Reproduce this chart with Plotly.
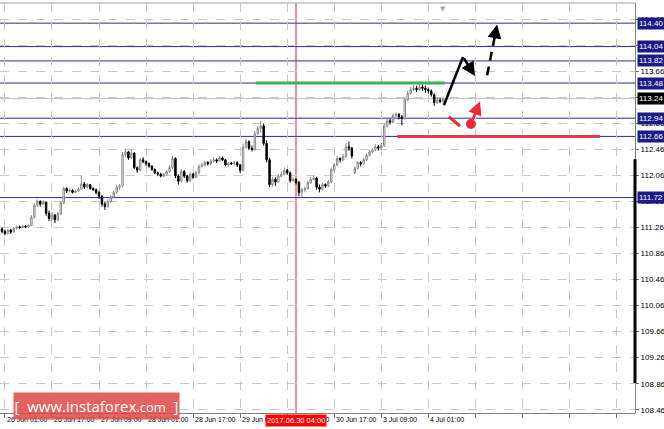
import plotly.graph_objects as go

# ---------------- data (hourly bars, 26 Jun 00:00 -> 4 Jul 06:00, weekend skipped) ----------------
opens = [111.24,111.20,111.17,111.22,111.19,111.25,111.27,111.26,111.28,111.27,
         111.29,111.42,111.60,111.66,111.62,111.65,111.48,111.40,111.45,111.38,
         111.47,111.64,111.86,111.82,111.83,111.80,111.82,111.85,111.93,111.88,
         111.92,111.86,111.84,111.80,111.74,111.62,111.58,111.66,111.73,111.80,
         111.88,111.90,112.38,112.42,112.33,112.40,112.18,112.14,112.30,112.27,
         112.24,112.20,112.15,112.10,112.08,112.05,112.08,112.12,112.18,112.32,
         112.05,111.97,112.12,112.05,111.98,112.08,112.03,112.10,112.20,112.22,
         112.26,112.24,112.28,112.30,112.28,112.33,112.30,112.22,112.25,112.24,
         112.26,112.22,112.14,112.50,112.58,112.48,112.46,112.70,112.78,112.82,
         112.55,112.30,111.92,112.00,111.96,112.05,112.08,112.14,112.10,111.98,
         112.00,111.95,111.80,111.84,111.86,111.95,112.00,112.02,111.88,111.85,
         111.92,111.90,111.96,112.15,112.22,112.32,112.30,112.35,112.50,112.48,
         112.10,112.17,112.26,112.24,112.30,112.37,112.42,112.45,112.50,112.48,
         112.52,112.82,112.90,112.88,112.98,113.00,112.96,112.94,113.22,113.32,
         113.38,113.40,113.38,113.42,113.40,113.38,113.36,113.30,113.18,113.22,
         113.20]
highs = [111.26,111.23,111.24,111.24,111.27,111.29,111.29,111.30,111.30,111.31,
         111.45,111.63,111.69,111.68,111.68,111.66,111.52,111.50,111.47,111.50,
         111.67,111.89,111.88,111.86,111.85,111.84,111.88,112.06,111.96,111.94,
         111.93,111.88,111.86,111.82,111.76,111.66,111.69,111.76,111.83,111.92,
         111.93,112.42,112.47,112.44,112.46,112.42,112.20,112.33,112.34,112.29,
         112.26,112.22,112.17,112.12,112.10,112.10,112.14,112.22,112.36,112.34,
         112.08,112.16,112.14,112.07,112.11,112.10,112.13,112.23,112.25,112.29,
         112.28,112.31,112.34,112.32,112.36,112.35,112.31,112.27,112.27,112.28,
         112.28,112.24,112.55,112.62,112.60,112.52,112.74,112.82,112.90,112.86,
         112.60,112.33,112.04,112.03,112.08,112.12,112.18,112.16,112.12,112.03,
         112.02,111.98,111.87,111.89,111.98,112.04,112.06,112.04,111.92,111.95,
         111.94,111.99,112.18,112.25,112.36,112.34,112.39,112.56,112.58,112.50,
         112.20,112.28,112.28,112.33,112.40,112.45,112.48,112.54,112.53,112.56,
         112.86,112.94,112.93,113.01,113.03,113.02,112.99,113.25,113.36,113.42,
         113.45,113.44,113.48,113.46,113.44,113.41,113.38,113.32,113.26,113.25,
         113.27]
lows = [111.17,111.14,111.15,111.16,111.18,111.23,111.24,111.25,111.25,111.26,
        111.28,111.40,111.57,111.58,111.60,111.44,111.36,111.37,111.33,111.36,
        111.45,111.62,111.79,111.80,111.78,111.79,111.81,111.84,111.85,111.86,
        111.84,111.82,111.77,111.70,111.58,111.53,111.57,111.64,111.71,111.78,
        111.84,111.88,112.34,112.30,112.31,112.16,112.10,112.12,112.25,112.21,
        112.18,112.13,112.08,112.05,112.03,112.03,112.06,112.10,112.16,112.02,
        111.92,111.95,112.02,111.95,111.96,112.01,112.02,112.08,112.18,112.20,
        112.21,112.22,112.26,112.25,112.27,112.28,112.20,112.20,112.22,112.22,
        112.19,112.10,112.12,112.47,112.45,112.43,112.44,112.68,112.72,112.52,
        112.26,111.88,111.89,111.90,111.94,112.03,112.06,112.07,111.95,111.96,
        111.92,111.74,111.73,111.80,111.84,111.93,111.98,111.84,111.80,111.83,
        111.87,111.88,111.94,112.12,112.20,112.26,112.28,112.33,112.44,112.32,
        112.08,112.15,112.20,112.22,112.28,112.35,112.40,112.43,112.44,112.46,
        112.50,112.80,112.84,112.86,112.95,112.92,112.83,112.92,113.20,113.30,
        113.36,113.34,113.36,113.36,113.33,113.32,113.27,113.13,113.16,113.17,
        113.18]
closes = [111.20,111.17,111.22,111.19,111.25,111.27,111.26,111.28,111.27,111.29,
          111.42,111.60,111.66,111.62,111.65,111.48,111.40,111.45,111.38,111.47,
          111.64,111.86,111.82,111.83,111.80,111.82,111.85,111.93,111.88,111.92,
          111.86,111.84,111.80,111.74,111.62,111.58,111.66,111.73,111.80,111.88,
          111.90,112.38,112.42,112.33,112.40,112.18,112.14,112.30,112.27,112.24,
          112.20,112.15,112.10,112.08,112.05,112.08,112.12,112.18,112.32,112.05,
          111.97,112.12,112.05,111.98,112.08,112.03,112.10,112.20,112.22,112.26,
          112.24,112.28,112.30,112.28,112.33,112.30,112.22,112.25,112.24,112.26,
          112.22,112.14,112.50,112.58,112.48,112.46,112.70,112.78,112.82,112.55,
          112.30,111.92,112.00,111.96,112.05,112.08,112.14,112.10,111.98,112.00,
          111.95,111.80,111.84,111.86,111.95,112.00,112.02,111.88,111.85,111.92,
          111.90,111.96,112.15,112.22,112.32,112.30,112.35,112.50,112.48,112.36,
          112.17,112.26,112.24,112.30,112.37,112.42,112.45,112.50,112.48,112.52,
          112.82,112.90,112.88,112.98,113.00,112.96,112.94,113.22,113.32,113.38,
          113.40,113.38,113.42,113.40,113.38,113.36,113.30,113.18,113.22,113.20,
          113.24]
bar_index = list(range(len(closes)))

tick_bars = [1, 17, 33, 49, 65, 81, 97, 113, 129, 145]
tick_labels = ["26 Jun 01:00", "26 Jun 17:00", "27 Jun 09:00", "28 Jun 01:00", "28 Jun 17:00",
               "29 Jun 09:00", "30 Jun 01:00", "30 Jun 17:00", "3 Jul 09:00", "4 Jul 01:00"]
future_grid_bars = [161, 177, 193, 209]
grid_prices = [108.46, 108.86, 109.26, 109.66, 110.06, 110.46, 110.86, 111.26, 111.66,
               112.06, 112.46, 112.86, 113.26, 113.66, 114.06, 114.46]

level_prices = [114.40, 114.04, 113.82, 113.48, 112.94, 112.66, 111.72]
current_price = 113.24
marker_bar = 100
marker_label = "2017.06.30 04:00"

green_segment = dict(x=[86.3, 150.7], y=[113.48, 113.48])
red_segment = dict(x=[134.4, 203.4], y=[112.66, 112.66])
black_path_x = [150.3, 156.8]
black_path_y = [113.14, 113.88]
black_arrow = dict(ax=156.8, ay=113.88, x=160.9, y=113.59)
dash_path_x = [165.0, 167.9]
dash_path_y = [113.60, 114.26]
dash_arrow = dict(ax=167.7, ay=114.22, x=168.4, y=114.38)
red_dash_x = [152.0, 155.8]
red_dash_y = [112.96, 112.82]
red_dot = dict(x=[159.5], y=[112.85])
red_arrow = dict(ax=159.5, ay=112.85, x=162.6, y=113.20)

# ---------------- figure ----------------
NAVY = "#2c2c94"
BOX = "#1b1b84"
FONT = "Liberation Sans"

fig = go.Figure()
fig.add_trace(go.Candlestick(
    x=bar_index, open=opens, high=highs, low=lows, close=closes,
    increasing=dict(line=dict(color="#8a8a8a", width=1), fillcolor="#ffffff"),
    decreasing=dict(line=dict(color="#000000", width=1), fillcolor="#000000"),
    whiskerwidth=0, hoverinfo="skip", showlegend=False,
))

shapes = []
shapes.append(dict(type="line", xref="paper", x0=0, x1=1, yref="y", y0=current_price, y1=current_price,
                   line=dict(color="#bdbdbd", width=1), layer="below"))
for p in level_prices:
    shapes.append(dict(type="line", xref="paper", x0=0, x1=1, yref="y", y0=p, y1=p,
                       line=dict(color=NAVY, width=1), layer="below"))
shapes.append(dict(type="line", xref="x", x0=marker_bar, x1=marker_bar, yref="paper", y0=0, y1=1,
                   line=dict(color="#e02020", width=1), layer="below"))
shapes.append(dict(type="line", xref="paper", x0=0, x1=1, yref="paper", y0=1, y1=1,
                   line=dict(color="#a0a0a0", width=1)))
shapes.append(dict(type="line", xref="paper", x0=1, x1=1, yref="y", y0=108.87, y1=112.31,
                   line=dict(color="#000000", width=3)))
fig.update_layout(shapes=shapes)

fig.add_trace(go.Scatter(x=green_segment["x"], y=green_segment["y"], mode="lines",
                         line=dict(color="#3cb44b", width=3), hoverinfo="skip", showlegend=False))
fig.add_trace(go.Scatter(x=red_segment["x"], y=red_segment["y"], mode="lines",
                         line=dict(color="#ec3a44", width=3), hoverinfo="skip", showlegend=False))
fig.add_trace(go.Scatter(x=black_path_x, y=black_path_y, mode="lines",
                         line=dict(color="#000000", width=2.5), hoverinfo="skip", showlegend=False))
fig.add_trace(go.Scatter(x=dash_path_x, y=dash_path_y, mode="lines",
                         line=dict(color="#000000", width=2.5, dash="9px,6px"), hoverinfo="skip", showlegend=False))
fig.add_trace(go.Scatter(x=red_dash_x, y=red_dash_y, mode="lines",
                         line=dict(color="#ec2a34", width=3), hoverinfo="skip", showlegend=False))
fig.add_trace(go.Scatter(x=red_dot["x"], y=red_dot["y"], mode="markers",
                         marker=dict(color="#ec2a34", size=10), hoverinfo="skip", showlegend=False))

ann = []
for a, col in [(black_arrow, "#000000"), (dash_arrow, "#000000"), (red_arrow, "#ec2a34")]:
    ann.append(dict(x=a["x"], y=a["y"], ax=a["ax"], ay=a["ay"], xref="x", yref="y", axref="x", ayref="y",
                    text="", showarrow=True, arrowhead=2, arrowsize=1.1, arrowwidth=2.5, arrowcolor=col))

for b, t in zip(tick_bars, tick_labels):
    ann.append(dict(x=b, y=0, xref="x", yref="paper", text=t, showarrow=False, xanchor="left",
                    yanchor="top", yshift=-1, font=dict(family=FONT, size=7, color="#000000")))
ann.append(dict(x=marker_bar, y=0, xref="x", yref="paper", text=marker_label, showarrow=False,
                xanchor="center", yanchor="top", yshift=-1, bgcolor="#ff0000", borderpad=1,
                font=dict(family=FONT, size=7.5, color="#ffffff")))
for p in level_prices:
    ann.append(dict(x=1, y=p, xref="paper", yref="y", text=f"{p:.2f}", showarrow=False, xanchor="left",
                    yanchor="middle", xshift=2, bgcolor=BOX, borderpad=1,
                    font=dict(family=FONT, size=8, color="#ffffff")))
ann.append(dict(x=1, y=current_price, xref="paper", yref="y", text=f"{current_price:.2f}", showarrow=False,
                xanchor="left", yanchor="middle", xshift=2, bgcolor="#000000", borderpad=1,
                font=dict(family=FONT, size=8, color="#ffffff")))
ann.append(dict(x=150, y=1, xref="x", yref="paper", text="▼", showarrow=False, yanchor="top",
                font=dict(family="DejaVu Sans", size=7, color="#a8a8a8")))
ann.append(dict(x=0.0205, y=0.018, xref="paper", yref="paper",
                text="[  www.instaforex<span style='font-size:13px'>.com</span>  ]",
                showarrow=False, xanchor="left", yanchor="middle", width=163, height=24,
                bgcolor="rgba(222,72,72,0.85)", font=dict(family="Open Sans", size=15, color="#ffffff")))
fig.update_layout(annotations=ann)

fig.update_layout(
    width=664, height=429,
    margin=dict(l=0, r=29, t=3, b=16),
    paper_bgcolor="#ffffff", plot_bgcolor="#ffffff",
    showlegend=False, hovermode=False,
    xaxis=dict(range=[-0.68, 215.3], rangeslider=dict(visible=False), automargin=False,
               tickmode="array", tickvals=tick_bars + future_grid_bars, ticktext=[""] * 14,
               showgrid=True, gridcolor="#c8c8c8", griddash="dash", gridwidth=1,
               ticks="outside", ticklen=4, tickcolor="#707070",
               showline=True, linecolor="#808080", linewidth=1, zeroline=False),
    yaxis=dict(range=[108.41, 114.71], side="right", automargin=False,
               tickmode="array", tickvals=grid_prices, ticktext=[f"{v:.2f}" for v in grid_prices],
               showgrid=True, gridcolor="#c8c8c8", griddash="dash", gridwidth=1,
               ticks="outside", ticklen=3, tickcolor="#707070",
               tickfont=dict(family=FONT, size=8, color="#000000"),
               showline=True, linecolor="#808080", linewidth=1, zeroline=False),
)

fig.write_html("out.html", config={"displayModeBar": False},
               post_script="document.body.style.margin='0';document.body.style.overflow='hidden';")
